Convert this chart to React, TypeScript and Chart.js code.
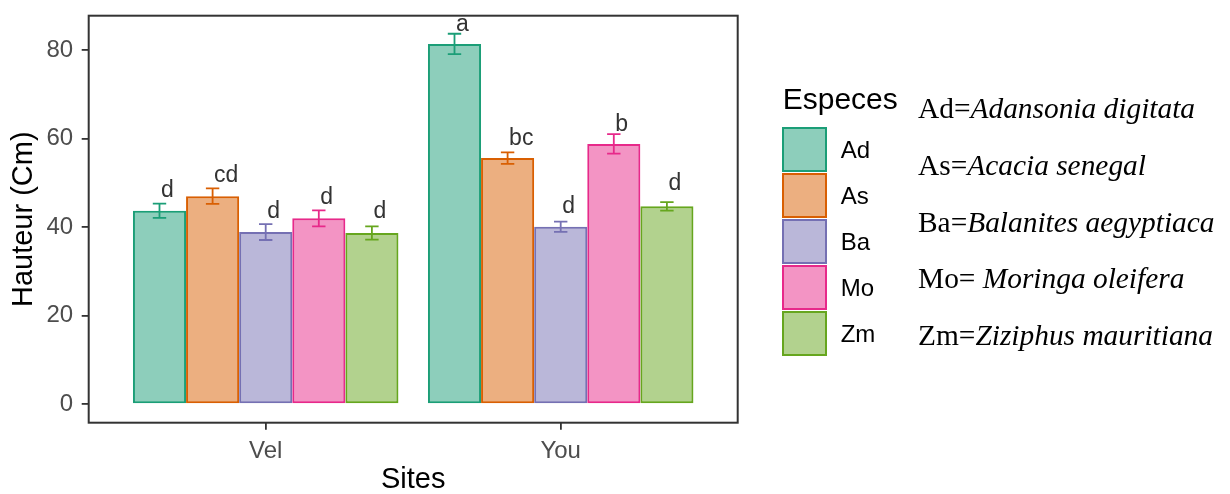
import React, { useEffect, useRef } from "react";
import { Chart, registerables } from "chart.js";

Chart.register(...registerables);

// ---- data ----
const sites = ["Vel", "You"];
const siteX = [1, 2];
const species = ["Ad", "As", "Ba", "Mo", "Zm"];
const speciesNames = [
  "Adansonia digitata",
  "Acacia senegal",
  "Balanites aegyptiaca",
  "Moringa oleifera",
  "Ziziphus mauritiana",
];
const speciesPrefix = ["Ad=", "As=", "Ba=", "Mo= ", "Zm="];

const heightAd = [43.7, 81.4];
const heightAs = [47.0, 55.6];
const heightBa = [38.9, 40.1];
const heightMo = [42.0, 58.8];
const heightZm = [38.7, 44.7];

const seAd = [1.6, 2.3];
const seAs = [1.75, 1.3];
const seBa = [1.8, 1.15];
const seMo = [1.8, 2.2];
const seZm = [1.5, 0.95];

const lettersAd = ["d", "a"];
const lettersAs = ["cd", "bc"];
const lettersBa = ["d", "d"];
const lettersMo = ["d", "b"];
const lettersZm = ["d", "d"];

const letterYAd = [46.9, 84.4];
const letterYAs = [50.1, 58.6];
const letterYBa = [42.0, 43.3];
const letterYMo = [45.3, 61.8];
const letterYZm = [42.0, 48.4];

const yTicks = [0, 20, 40, 60, 80];
const yMin = -4.18;
const yMax = 87.78;
const xMin = 0.4;
const xMax = 2.6;

const heights = [heightAd, heightAs, heightBa, heightMo, heightZm];
const ses = [seAd, seAs, seBa, seMo, seZm];
const letters = [lettersAd, lettersAs, lettersBa, lettersMo, lettersZm];
const letterYs = [letterYAd, letterYAs, letterYBa, letterYMo, letterYZm];

const lineColors = ["#1B9E77", "#D95F02", "#7570B3", "#E7298A", "#66A61E"];
const fillColors = [
  "rgba(27,158,119,0.5)",
  "rgba(217,95,2,0.5)",
  "rgba(117,112,179,0.5)",
  "rgba(231,41,138,0.5)",
  "rgba(102,166,30,0.5)",
];

const SANS = "'Liberation Sans', Arial, sans-serif";
const SERIF = "'Liberation Serif', 'Times New Roman', serif";

const decorPlugin = {
  id: "decor",
  afterDatasetsDraw(chart: any) {
    const ctx = chart.ctx;
    const yScale = chart.scales.y;
    ctx.save();
    species.forEach((_, i) => {
      const meta = chart.getDatasetMeta(i);
      meta.data.forEach((bar: any, j: number) => {
        const x = bar.x;
        const yTop = yScale.getPixelForValue(heights[i][j] + ses[i][j]);
        const yBot = yScale.getPixelForValue(heights[i][j] - ses[i][j]);
        const hw = 6.7;
        ctx.strokeStyle = lineColors[i];
        ctx.lineWidth = 1.8;
        ctx.beginPath();
        ctx.moveTo(x, yTop);
        ctx.lineTo(x, yBot);
        ctx.moveTo(x - hw, yTop);
        ctx.lineTo(x + hw, yTop);
        ctx.moveTo(x - hw, yBot);
        ctx.lineTo(x + hw, yBot);
        ctx.stroke();

        ctx.fillStyle = "#333333";
        ctx.font = `23px ${SANS}`;
        ctx.textAlign = "left";
        ctx.textBaseline = "alphabetic";
        ctx.fillText(letters[i][j], x + 1.5, yScale.getPixelForValue(letterYs[i][j]));
      });
    });
    ctx.restore();
  },
  afterDraw(chart: any) {
    const ctx = chart.ctx;
    const a = chart.chartArea;
    ctx.save();
    ctx.strokeStyle = "#333333";
    ctx.lineWidth = 2;
    ctx.strokeRect(a.left, a.top, a.right - a.left, a.bottom - a.top);

    // legend
    ctx.fillStyle = "#000000";
    ctx.font = `30px ${SANS}`;
    ctx.textAlign = "left";
    ctx.textBaseline = "alphabetic";
    ctx.fillText("Especes", 782.7, 109.3);
    const keyX = 783;
    const keyTop = 128;
    const keyStride = 46;
    const keySize = 43;
    species.forEach((sp, i) => {
      const top = keyTop + i * keyStride;
      ctx.fillStyle = fillColors[i];
      ctx.fillRect(keyX, top, keySize, keySize);
      ctx.strokeStyle = lineColors[i];
      ctx.lineWidth = 2;
      ctx.strokeRect(keyX, top, keySize, keySize);
      ctx.fillStyle = "#000000";
      ctx.font = `24px ${SANS}`;
      ctx.textBaseline = "middle";
      ctx.fillText(sp, 840.7, top + keySize / 2 + 2);
    });

    // species names
    const baseY = 118.3;
    const stride = 56.7;
    species.forEach((_, i) => {
      const y = baseY + i * stride;
      ctx.fillStyle = "#000000";
      ctx.textBaseline = "alphabetic";
      ctx.font = `29.4px ${SERIF}`;
      ctx.fillText(speciesPrefix[i], 918, y);
      const w = ctx.measureText(speciesPrefix[i]).width;
      ctx.font = `italic 29.4px ${SERIF}`;
      ctx.fillText(speciesNames[i], 918 + w, y);
    });
    ctx.restore();
  },
};

export default function App() {
  const ref = useRef<HTMLCanvasElement>(null);
  useEffect(() => {
    if (!ref.current) return;
    const chart = new Chart(ref.current, {
      type: "bar",
      data: {
        datasets: species.map((sp, i) => ({
          label: sp,
          data: siteX.map((x, j) => ({ x, y: heights[i][j] })),
          backgroundColor: fillColors[i],
          borderColor: lineColors[i],
          borderWidth: 2,
          borderSkipped: false,
          categoryPercentage: 0.9,
          barPercentage: 1.0,
        })),
      },
      options: {
        animation: false,
        responsive: false,
        devicePixelRatio: 1,
        layout: { padding: { left: 0, right: 492.3, top: 15.7, bottom: 0 } },
        plugins: {
          legend: { display: false },
          tooltip: { enabled: false },
        },
        scales: {
          x: {
            type: "linear",
            min: xMin,
            max: xMax,
            offset: false,
            afterBuildTicks: (s: any) => {
              s.ticks = siteX.map((v) => ({ value: v }));
            },
            afterFit: (s: any) => {
              s.height = 71.3;
              s.paddingLeft = 0;
              s.paddingRight = 0;
            },
            ticks: {
              autoSkip: false,
              padding: 7,
              color: "#4D4D4D",
              font: { family: SANS, size: 24 },
              callback: (v: any) => sites[siteX.indexOf(Number(v))] ?? "",
            },
            grid: {
              offset: false,
              drawOnChartArea: false,
              drawTicks: true,
              tickLength: 7,
              color: "#333333",
              lineWidth: 1.8,
            },
            border: { display: false },
            title: {
              display: true,
              text: "Sites",
              color: "#000000",
              font: { family: SANS, size: 29, lineHeight: 1 },
              padding: { top: 0, bottom: 0 },
            },
          },
          y: {
            type: "linear",
            min: yMin,
            max: yMax,
            afterBuildTicks: (s: any) => {
              s.ticks = yTicks.map((v) => ({ value: v }));
            },
            afterFit: (s: any) => {
              s.width = 88.7;
              s.paddingTop = 0;
              s.paddingBottom = 0;
            },
            ticks: {
              padding: 8.5,
              color: "#4D4D4D",
              font: { family: SANS, size: 24 },
            },
            grid: {
              drawOnChartArea: false,
              drawTicks: true,
              tickLength: 7,
              color: "#333333",
              lineWidth: 1.8,
            },
            border: { display: false },
            title: {
              display: true,
              text: "Hauteur (Cm)",
              color: "#000000",
              font: { family: SANS, size: 29, lineHeight: 1 },
              padding: { top: 9, bottom: 0 },
            },
          },
        },
      },
      plugins: [decorPlugin],
    } as any);
    return () => chart.destroy();
  }, []);
  return (
    <div
      style={{
        position: "absolute",
        left: 0,
        top: 0,
        width: 1230,
        height: 494,
        background: "#ffffff",
      }}
    >
      <canvas ref={ref} width={1230} height={494} style={{ display: "block" }} />
    </div>
  );
}
